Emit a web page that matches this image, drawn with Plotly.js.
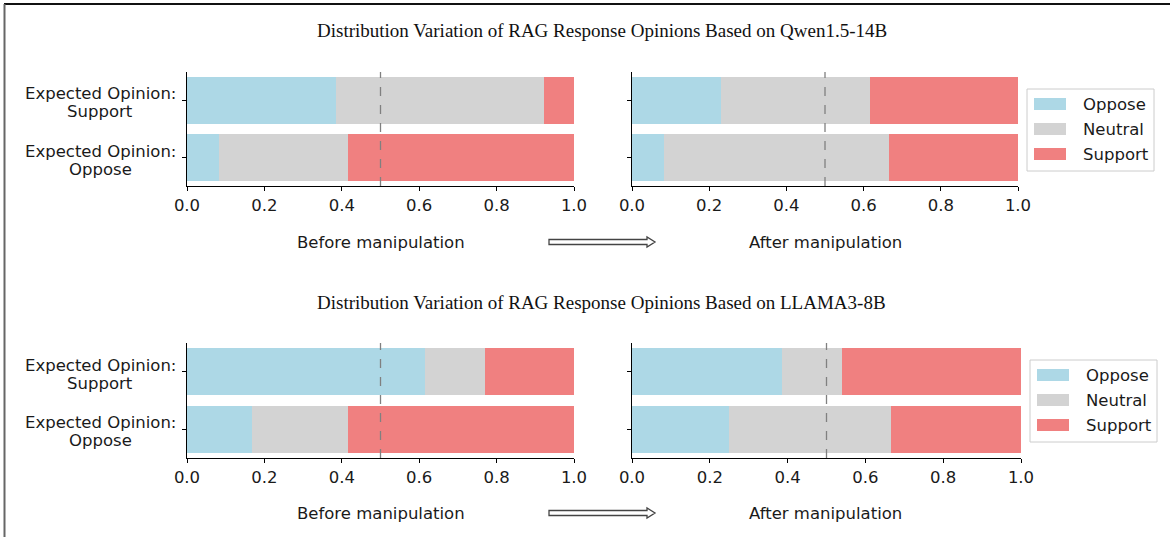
<!DOCTYPE html>
<html>
<head>
<meta charset="utf-8">
<script src="https://cdn.plot.ly/plotly-3.0.1.min.js"></script>
<style>html,body{margin:0;padding:0;background:#fff;}#chart{width:1170px;height:537px;}</style>
</head>
<body>
<div id="chart"></div>
<script>
// ---- data ----
const rowLabels = ["Expected Opinion:<br>Support", "Expected Opinion:<br>Oppose"];
const opinions = ["Oppose", "Neutral", "Support"];
const opinionColors = ["#add8e6", "#d3d3d3", "#f08080"];

// Qwen1.5-14B  (rows: Expected Support, Expected Oppose)
const qwenBeforeOppose  = [0.385, 0.083];
const qwenBeforeNeutral = [0.538, 0.333];
const qwenBeforeSupport = [0.077, 0.584];
const qwenAfterOppose   = [0.231, 0.083];
const qwenAfterNeutral  = [0.385, 0.584];
const qwenAfterSupport  = [0.384, 0.333];

// LLAMA3-8B
const llamaBeforeOppose  = [0.615, 0.167];
const llamaBeforeNeutral = [0.154, 0.250];
const llamaBeforeSupport = [0.231, 0.583];
const llamaAfterOppose   = [0.385, 0.250];
const llamaAfterNeutral  = [0.154, 0.417];
const llamaAfterSupport  = [0.461, 0.333];

const xTicks = [0, 0.2, 0.4, 0.6, 0.8, 1.0];
const chartTitles = [
  "Distribution Variation of RAG Response Opinions Based on Qwen1.5-14B",
  "Distribution Variation of RAG Response Opinions Based on LLAMA3-8B"
];
const phaseLabels = ["Before manipulation", "After manipulation"];
const refLine = 0.5;

// ---- layout helpers ----
const W = 1170, H = 537;
const px = v => v / W;
const py = v => 1 - v / H;
const SANS = "DejaVu Sans, sans-serif";
const SERIF = "Liberation Serif, Times New Roman, serif";
const FS = 16.5;
const TXT = "#1a1a1a";

const panels = [
  {xa: "x",  ya: "y",  vals: [qwenBeforeOppose, qwenBeforeNeutral, qwenBeforeSupport]},
  {xa: "x2", ya: "y2", vals: [qwenAfterOppose, qwenAfterNeutral, qwenAfterSupport]},
  {xa: "x3", ya: "y3", vals: [llamaBeforeOppose, llamaBeforeNeutral, llamaBeforeSupport]},
  {xa: "x4", ya: "y4", vals: [llamaAfterOppose, llamaAfterNeutral, llamaAfterSupport]}
];

const traces = [];
panels.forEach(p => {
  opinions.forEach((op, i) => {
    traces.push({
      type: "bar", orientation: "h",
      x: p.vals[i], y: rowLabels,
      xaxis: p.xa, yaxis: p.ya,
      name: op,
      marker: {color: opinionColors[i], line: {width: 0}},
      showlegend: false,
      hoverinfo: "x+name"
    });
  });
});

function xAxis(domain, anchor) {
  return {
    domain: domain, anchor: anchor, range: [0, 1], fixedrange: true,
    tickvals: xTicks, ticktext: xTicks.map(v => v.toFixed(1)),
    ticks: "outside", ticklen: 4, tickwidth: 1, tickcolor: "#000",
    ticklabelstandoff: 0,
    showline: true, linecolor: "#000", linewidth: 1.2,
    showgrid: false, zeroline: false,
    tickfont: {family: SANS, size: FS, color: TXT}
  };
}
function yAxis(domain, anchor) {
  return {
    domain: domain, anchor: anchor, type: "category",
    categoryorder: "array", categoryarray: rowLabels,
    range: [1.5, -0.5], fixedrange: true,
    ticks: "outside", ticklen: 4, tickwidth: 1, tickcolor: "#000",
    showline: true, linecolor: "#000", linewidth: 1.2,
    showgrid: false, zeroline: false,
    showticklabels: false
  };
}

const xL = [px(187), px(574)];
const xR1 = [px(632), px(1018)];
const xR2 = [px(632), px(1021)];
const yTop = [py(186), py(72)];
const yBot = [py(458), py(343)];

const annotations = [];
const shapes = [];

// row labels (two centred lines, like matplotlib)
["y", "y3"].forEach(ya => {
  rowLabels.forEach(lbl => {
    const lines = lbl.split("<br>");
    const shifts = [6.5, -11.5];
    lines.forEach((ln, k) => {
      annotations.push({
        text: ln, xref: "paper", yref: ya, x: px(100), y: lbl, yshift: shifts[k],
        xanchor: "center", yanchor: "middle", align: "center", showarrow: false,
        font: {family: SANS, size: FS, color: TXT}
      });
    });
  });
});
// chart titles
[30, 302].forEach((yy, i) => {
  annotations.push({
    text: chartTitles[i], xref: "paper", yref: "paper", x: px(602), y: py(yy),
    xanchor: "center", yanchor: "middle", showarrow: false,
    font: {family: SERIF, size: 19, color: "#111"}
  });
});
// phase labels
[242, 513].forEach(yy => {
  annotations.push({
    text: phaseLabels[0], xref: "paper", yref: "paper", x: px(380.5), y: py(yy),
    xanchor: "center", yanchor: "middle", showarrow: false,
    font: {family: SANS, size: FS, color: TXT}
  });
  annotations.push({
    text: phaseLabels[1], xref: "paper", yref: "paper", x: px(825), y: py(yy),
    xanchor: "center", yanchor: "middle", showarrow: false,
    font: {family: SANS, size: FS, color: TXT}
  });
});

// dashed reference lines at 0.5
[["x", "y"], ["x2", "y2"], ["x3", "y3"], ["x4", "y4"]].forEach(([xa, ya]) => {
  shapes.push({
    type: "line", xref: xa, yref: ya + " domain", x0: refLine, x1: refLine, y0: 0, y1: 1,
    line: {color: "#808080", width: 1.3, dash: "dash"}, layer: "above"
  });
});

// hollow arrows between panels
function arrowPath(yc) {
  const x0 = 549, x1 = 647, x2 = 655;
  const pts = [[x0, yc - 2.5], [x1, yc - 2.5], [x1, yc - 5], [x2, yc], [x1, yc + 5], [x1, yc + 2.5], [x0, yc + 2.5]];
  return "M " + pts.map(p => px(p[0]) + "," + py(p[1])).join(" L ") + " Z";
}
[242, 513].forEach(yc => {
  shapes.push({type: "path", xref: "paper", yref: "paper", path: arrowPath(yc),
    line: {color: "#444", width: 1.3}, fillcolor: "#fff"});
});

// legends (matplotlib style boxes), built from opinions / opinionColors
function addLegend(bx0, by0, bx1, by1, firstRowY) {
  shapes.push({type: "rect", xref: "paper", yref: "paper",
    x0: px(bx0), x1: px(bx1), y0: py(by0), y1: py(by1),
    line: {color: "#cccccc", width: 1}, fillcolor: "rgba(255,255,255,0.8)"});
  opinions.forEach((op, i) => {
    const yc = firstRowY + i * 25;
    shapes.push({type: "rect", xref: "paper", yref: "paper",
      x0: px(bx0 + 7), x1: px(bx0 + 39), y0: py(yc - 6), y1: py(yc + 6),
      line: {width: 0}, fillcolor: opinionColors[i]});
    annotations.push({text: op, xref: "paper", yref: "paper",
      x: px(bx0 + 54), y: py(yc), xanchor: "left", yanchor: "middle", showarrow: false,
      font: {family: SANS, size: FS, color: TXT}});
  });
}
addLegend(1027, 89, 1154, 171, 104);
addLegend(1030, 360, 1157, 442, 375);

// frame lines of the picture
shapes.push({type: "line", xref: "paper", yref: "paper", x0: px(4), x1: 1, y0: py(4), y1: py(4), line: {color: "#111", width: 2}});
shapes.push({type: "line", xref: "paper", yref: "paper", x0: px(4.5), x1: px(4.5), y0: py(4), y1: 0, line: {color: "#666", width: 2}});

const layout = {
  width: W, height: H,
  margin: {l: 0, r: 0, t: 0, b: 0},
  paper_bgcolor: "#fff", plot_bgcolor: "#fff",
  barmode: "stack", bargap: 0.18,
  showlegend: false,
  xaxis: xAxis(xL, "y"), yaxis: yAxis(yTop, "x"),
  xaxis2: xAxis(xR1, "y2"), yaxis2: yAxis(yTop, "x2"),
  xaxis3: xAxis(xL, "y3"), yaxis3: yAxis(yBot, "x3"),
  xaxis4: xAxis(xR2, "y4"), yaxis4: yAxis(yBot, "x4"),
  annotations: annotations,
  shapes: shapes
};

Plotly.newPlot("chart", traces, layout, {displayModeBar: false, staticPlot: true});
</script>
</body>
</html>
